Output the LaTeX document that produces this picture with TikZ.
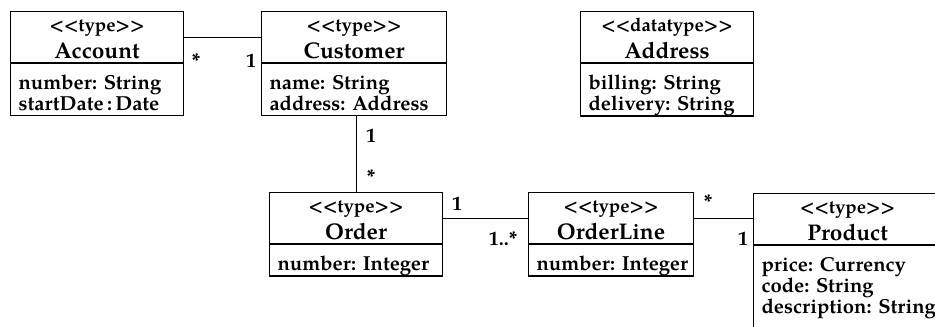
\documentclass[tikz,border=0pt]{standalone}
\usepackage{fontspec}
\setmainfont{TeX Gyre Pagella}
\usetikzlibrary{positioning}
\frenchspacing
\newdimen\px \px=0.75pt
\newcommand{\umlhead}[2]{\rule{0pt}{20\px}{\fontsize{14}{16}\selectfont <{}<#1>{}>}\\{\fontsize{17}{20}\selectfont #2}\rule[-4\px]{0pt}{0pt}}

\begin{document}
\begin{tikzpicture}[
  x=\px, y=-\px, line width=0.8pt,
  head/.style={draw, anchor=north west, minimum width=#1*\px, inner sep=0pt, align=center,
               font=\fontsize{15}{20.25}\selectfont\bfseries},
  attr/.style={draw, anchor=north west, text width=#1*\px, inner sep=0pt,
               align=left, font=\fontsize{15.2}{15.75}\selectfont\bfseries,
               execute at begin node={\leftskip=8\px\rule{0pt}{26\px}},
               execute at end node={\rule[-5\px]{0pt}{0pt}}},
  mult/.style={anchor=base, inner sep=0pt, font=\fontsize{15}{15}\selectfont\bfseries}
]
\clip (0,0) rectangle (935,326);
% classes
\node[head=173] (acc) at (10,11) {\umlhead{type}{Account}};
\node[attr=173] (accb) at (acc.south west) {number: String\\startDate\,:\,Date};
\node[head=185] (cus) at (261,11) {\umlhead{type}{Customer}};
\node[attr=185] (cusb) at (cus.south west) {name: String\\address: Address};
\node[head=173] (addr) at (580,11) {\umlhead{datatype}{Address}};
\node[attr=173] (addrb) at (addr.south west) {billing: String\\delivery: String};
\node[head=173] (ord) at (269,192) {\umlhead{type}{Order}};
\node[attr=173] (ordb) at (ord.south west) {number: Integer};
\node[head=165] (line) at (528,192) {\umlhead{type}{OrderLine}};
\node[attr=165] (lineb) at (line.south west) {number: Integer};
\node[head=188] (prod) at (753,193) {\umlhead{type}{Product}};
\node[attr=188] (prodb) at (prod.south west) {price: Currency\\code: String\\description: String\\[6\px]};
% associations
\draw (acc.east) -- (cus.west);
\draw (ord.north) -- (ord.north |- cusb.south);
\draw (ord.east) -- (line.west);
\draw (line.east) -- (line.east -| prod.west);
% multiplicities
\node[mult] (accm) at (196,67) {*};
\node[mult] (cusm) at (251,67) {1};
\node[mult] (cusm2) at (371,142) {1};
\node[mult] (ordm) at (371,183) {*};
\node[mult] (ordm2) at (457,210) {1};
\node[mult] (linem) at (503,245) {1..*};
\node[mult] (linem2) at (708,208) {*};
\node[mult] (prodm) at (743,245) {1};
\end{tikzpicture}
\end{document}
